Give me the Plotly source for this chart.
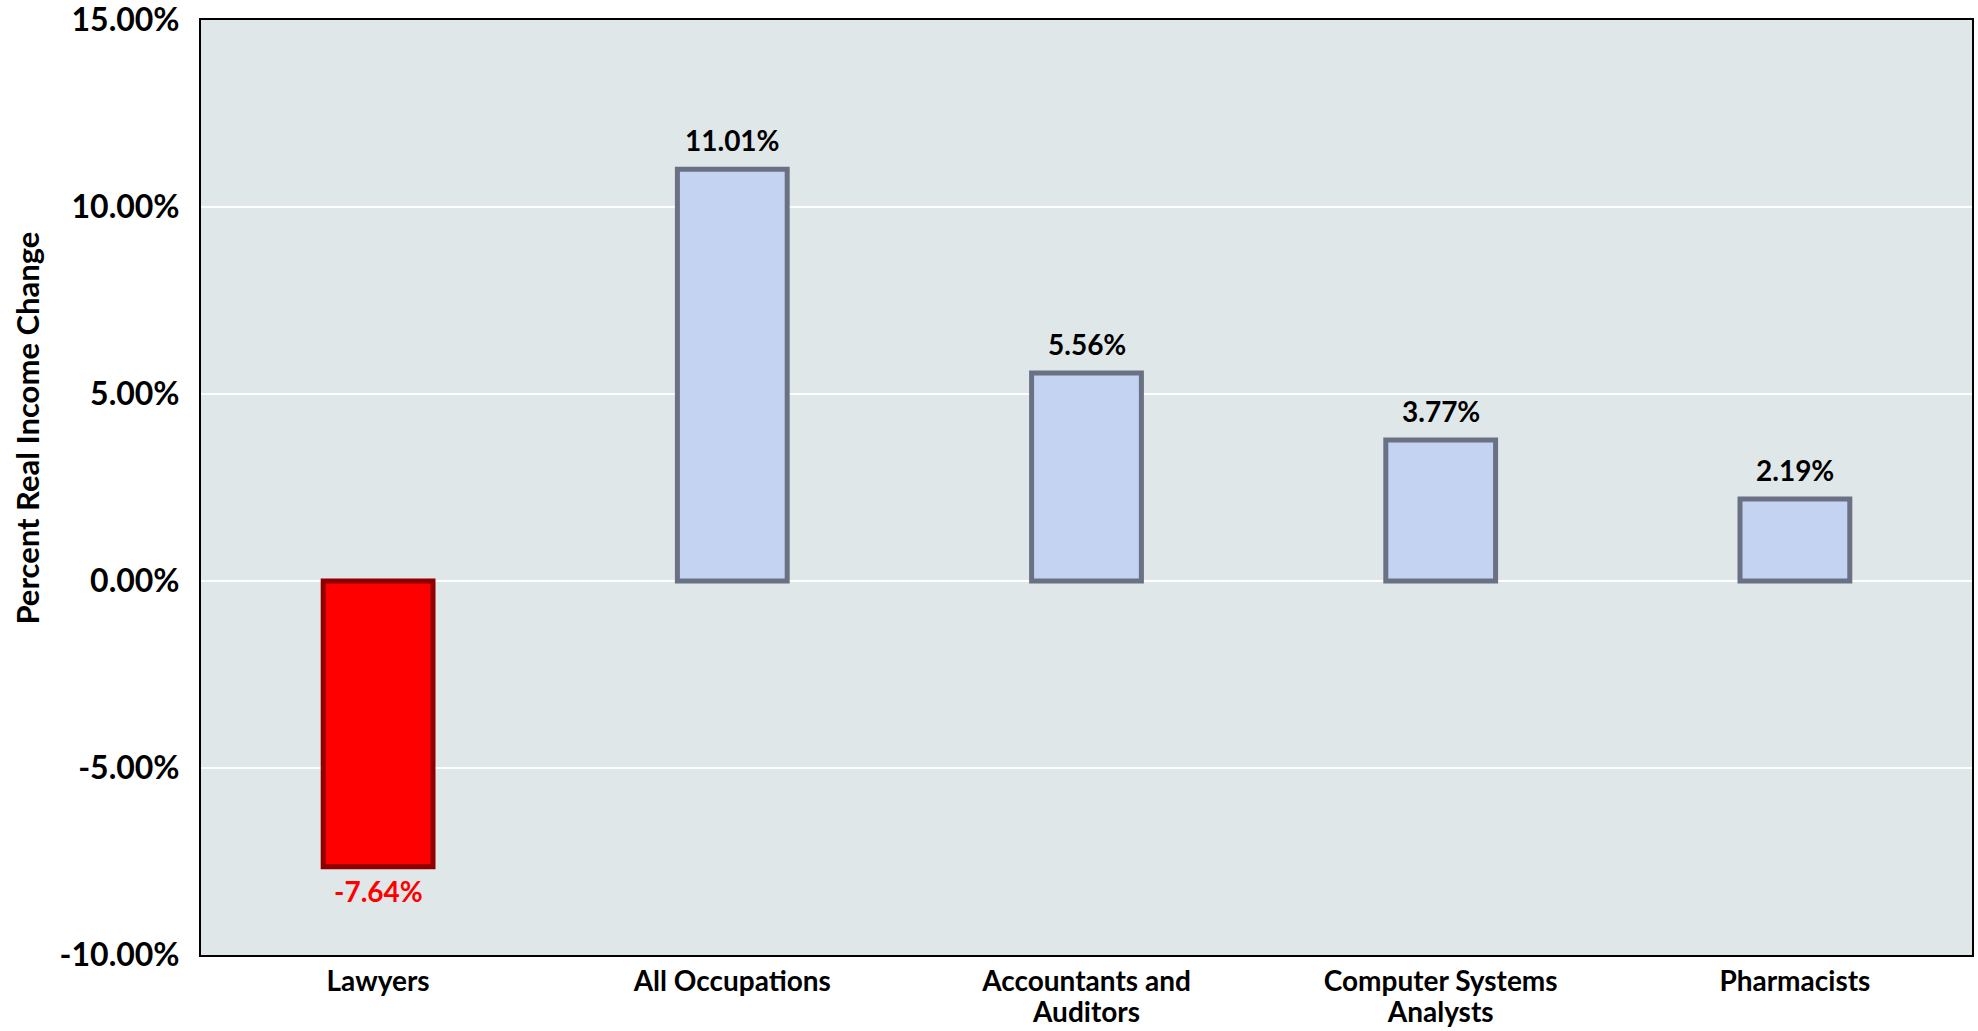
import plotly.graph_objects as go

categories = ["Lawyers", "All Occupations", "Accountants and<br>Auditors",
              "Computer Systems<br>Analysts", "Pharmacists"]
values = [-7.64, 11.01, 5.56, 3.77, 2.19]
tick_vals = [-10, -5, 0, 5, 10, 15]
tick_text = ["-10.00%", "-5.00%", "0.00%", "5.00%", "10.00%", "15.00%"]

fill_colors = ["#FF0000" if v < 0 else "#C3D3F1" for v in values]
edge_colors = ["#8E0000" if v < 0 else "#6A7184" for v in values]
text_colors = ["#FF0000" if v < 0 else "#000000" for v in values]

FONT = "Lato"
CAT_SIZE = 28


def big(label):
    return "<br>".join(
        f'<span style="font-size:{CAT_SIZE}px">{part}</span>' for part in label.split("<br>")
    )


fig = go.Figure()
fig.add_trace(go.Bar(
    x=categories, y=values,
    marker=dict(color=fill_colors, line=dict(color=edge_colors, width=5)),
    cliponaxis=False, width=0.31,
))

for c, v, col in zip(categories, values, text_colors):
    fig.add_annotation(
        x=c, y=v, text=f"<b>{v:.2f}%</b>", showarrow=False,
        yanchor="bottom" if v >= 0 else "top",
        yshift=10 if v >= 0 else -5,
        font=dict(family=FONT, size=28, color=col),
    )

fig.update_layout(
    width=1978, height=1031,
    margin=dict(l=201, r=6, t=20, b=76),
    paper_bgcolor="white", plot_bgcolor="#E0E7E9",
    showlegend=False,
    font=dict(family=FONT, size=27, color="black"),
)
fig.update_xaxes(
    automargin=False,
    tickvals=categories, ticktext=[big(c) for c in categories],
    showline=True, linecolor="black", linewidth=2, mirror=True,
    tickfont=dict(family=FONT, size=24, color="black", weight="bold"),
    ticks="", ticklabelstandoff=5, ticklabeloverflow="allow",
)
fig.update_yaxes(
    automargin=False,
    range=[-10, 15], tickvals=tick_vals, ticktext=tick_text,
    showgrid=True, gridcolor="white", gridwidth=2,
    zeroline=True, zerolinecolor="white", zerolinewidth=2,
    showline=True, linecolor="black", linewidth=2, mirror=True,
    tickfont=dict(family=FONT, size=32, color="black", weight="bold"),
    ticks="", ticklabelstandoff=13, ticklabeloverflow="allow",
)
fig.add_annotation(
    text="<b>Percent Real Income Change</b>", textangle=-90,
    xref="paper", yref="paper", x=(27 - 201) / 1771, y=0.563,
    xanchor="center", yanchor="middle", showarrow=False,
    font=dict(family=FONT, size=31, color="black"),
)
fig.write_html(
    "out.html",
    config={"displayModeBar": False},
    post_script="document.body.style.margin='0';document.body.style.overflow='hidden';",
)
